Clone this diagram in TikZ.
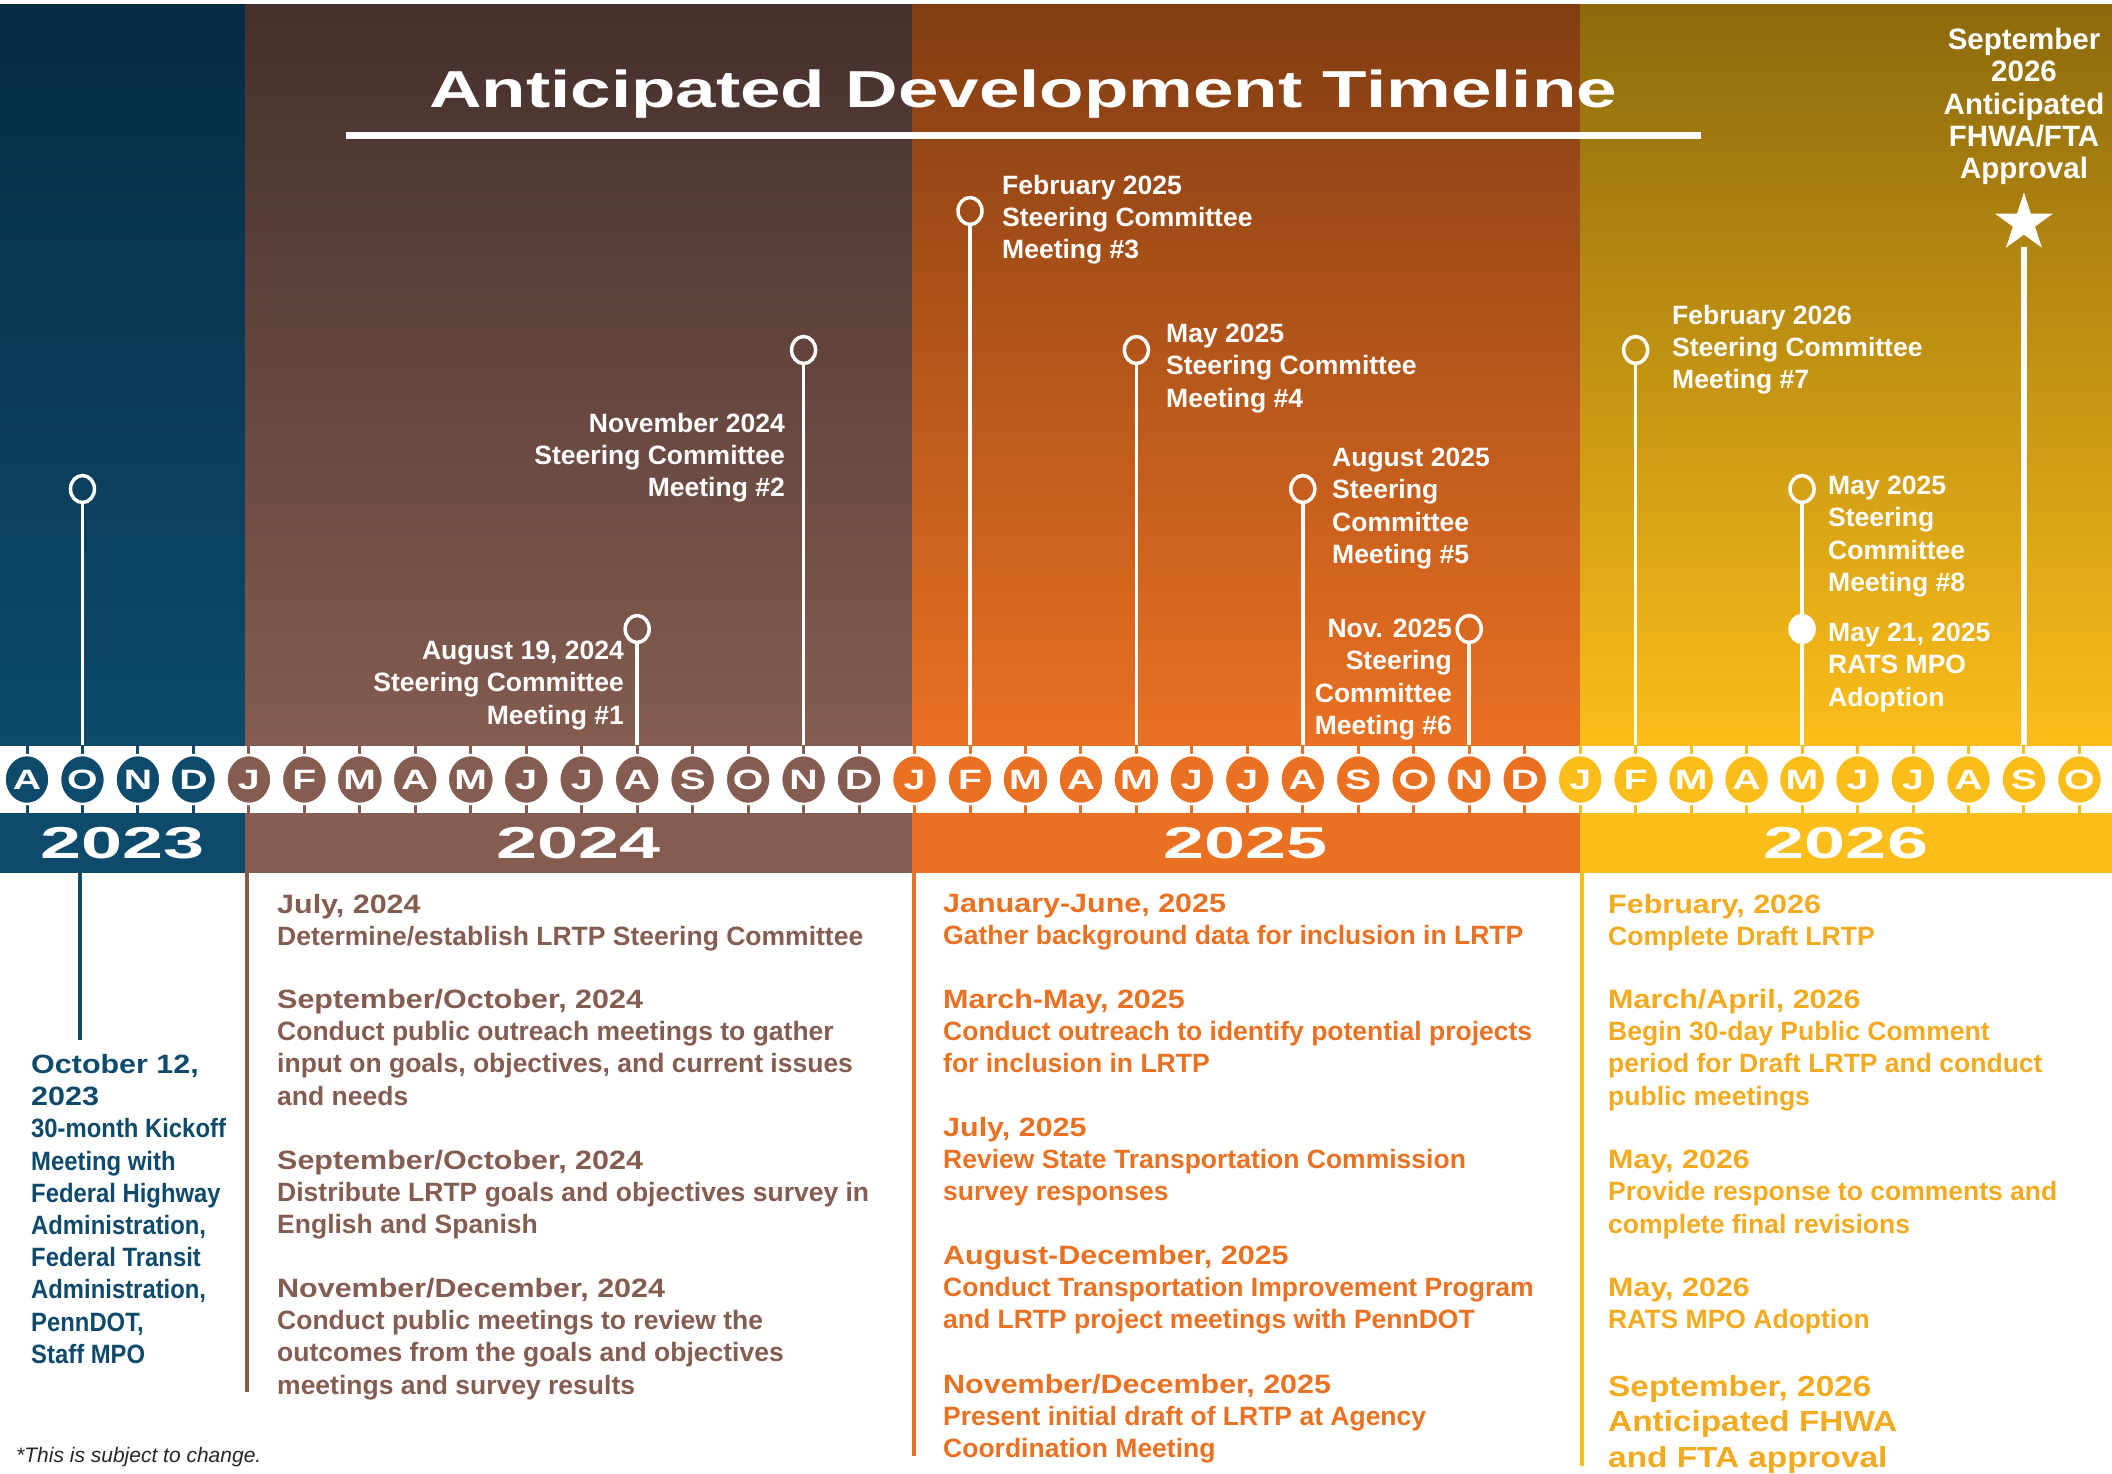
\documentclass[tikz,border=0pt]{standalone}
\usepackage{fontspec}
\setmainfont{Liberation Sans}
\newfontfamily\headfont[FakeStretch=1.15]{Liberation Sans}
\newfontfamily\narrowface[FakeStretch=0.9]{Liberation Sans}
\newfontfamily\wideface[FakeStretch=1.4]{Liberation Sans}
\newfontfamily\yearface[FakeStretch=1.65]{Liberation Sans}
\usetikzlibrary{shapes.geometric}
\definecolor{c23}{HTML}{0E4A6C}
\definecolor{t23}{HTML}{062C44}
\definecolor{c24}{HTML}{845C50}
\definecolor{t24}{HTML}{45302C}
\definecolor{c25}{HTML}{EA7122}
\definecolor{t25}{HTML}{823D13}
\definecolor{c26}{HTML}{FBBD19}
\definecolor{t26}{HTML}{8C6A0C}
\definecolor{x26}{HTML}{F3AA1E}

\begin{document}
\begin{tikzpicture}[x=1pt, y=-1pt,
	month/.style={ellipse, draw=white, line width=2.5, inner sep=0, minimum width=45, minimum height=49, text=white, font=\wideface\bfseries\fontsize{28}{28}\selectfont},
	ring/.style={ellipse, draw=white, line width=3.5, inner sep=0, minimum width=24, minimum height=27},
	stem/.style={white, line width=3.5},
	lbl/.style={text=white, inner sep=0, font=\bfseries\fontsize{26.5}{32.2}\selectfont},
	item/.style={inner sep=0, anchor=north west, align=left, font=\bfseries\fontsize{26.5}{32.2}\selectfont},
	year/.style={text=white, inner sep=0, anchor=base, font=\yearface\bfseries\fontsize{44.7}{45}\selectfont}]
		\def\dx{55.47};
		\fill[white] (0,0) rectangle (2112,1473);
		\useasboundingbox (0,0) rectangle (2112,1473);
		% backgrounds
		\shade[top color=t23, bottom color=c23] (0,4) rectangle (245,745);
		\shade[top color=t24, bottom color=c24] (245,4) rectangle (912,745);
		\shade[top color=t25, bottom color=c25] (912,4) rectangle (1580,745);
		\shade[top color=t26, bottom color=c26] (1580,4) rectangle (2112,745);
		\fill[c23] (0,813) rectangle (245,873);
		\fill[c24] (245,813) rectangle (912,873);
		\fill[c25] (912,813) rectangle (1580,873);
		\fill[c26] (1580,813) rectangle (2112,873);
		\draw[c23, line width=3.5] (80,873) -- (80,1040);
		\draw[c24, line width=4] (247,873) -- (247,1392);
		\draw[c25, line width=4] (914,873) -- (914,1456);
		\draw[c26, line width=4] (1582,873) -- (1582,1466);
		\coordinate (top) at (0,745);
		% title
		\node[text=white, inner sep=0, anchor=base, font=\wideface\bfseries\fontsize{52}{52}\selectfont] (title) at (1023,107) {Anticipated Development Timeline};
		\draw[white, line width=7] (346,135.5) -- (1701,135.5);
		% months
		\foreach \m [count=\i from 0] in {A,O,N,D} {
			\draw[c23, line width=3] ({27+\dx*\i},745) -- ({27+\dx*\i},813);
			\node[month, fill=c23] (m\i) at ({27+\dx*\i},779.5) {\m};
		}
		\foreach \m [count=\i from 4] in {J,F,M,A,M,J,J,A,S,O,N,D} {
			\draw[c24, line width=3] ({27+\dx*\i},745) -- ({27+\dx*\i},813);
			\node[month, fill=c24] (m\i) at ({27+\dx*\i},779.5) {\m};
		}
		\foreach \m [count=\i from 16] in {J,F,M,A,M,J,J,A,S,O,N,D} {
			\draw[c25, line width=3] ({27+\dx*\i},745) -- ({27+\dx*\i},813);
			\node[month, fill=c25] (m\i) at ({27+\dx*\i},779.5) {\m};
		}
		\foreach \m [count=\i from 28] in {J,F,M,A,M,J,J,A,S,O} {
			\draw[c26, line width=3] ({27+\dx*\i},745) -- ({27+\dx*\i},813);
			\node[month, fill=c26] (m\i) at ({27+\dx*\i},779.5) {\m};
		}
		\node[year] (y23) at (122.5,858) {2023};
		\node[year] (y24) at (578.5,858) {2024};
		\node[year] (y25) at (1246,858) {2025};
		\node[year] (y26) at (1846,858) {2026};
		% milestones
		\node[ring] (r1) at ({27+\dx*1},489) {};
		\node[ring] (r2) at ({27+\dx*11},629) {};
		\node[ring] (r3) at ({27+\dx*14},350) {};
		\node[ring] (r4) at ({27+\dx*17},211) {};
		\node[ring] (r5) at ({27+\dx*20},350) {};
		\node[ring] (r6) at ({27+\dx*23},489) {};
		\node[ring] (r7) at ({27+\dx*26},629) {};
		\node[ring] (r8) at ({27+\dx*29},350) {};
		\node[ring] (r9) at ({27+\dx*32},489) {};
		\draw[stem] (r1) -- (r1 |- top);
		\draw[stem] (r2) -- (r2 |- top);
		\draw[stem] (r3) -- (r3 |- top);
		\draw[stem] (r4) -- (r4 |- top);
		\draw[stem] (r5) -- (r5 |- top);
		\draw[stem] (r6) -- (r6 |- top);
		\draw[stem] (r7) -- (r7 |- top);
		\draw[stem] (r8) -- (r8 |- top);
		\draw[stem] (r9) -- (r9 |- top);
		\node[ring, fill=white] (r10) at ({27+\dx*32},629) {};
		\node[star, star points=5, star point ratio=2.618, fill=white, inner sep=0, minimum size=61] (apv) at ({27+\dx*36},223) {};
		\coordinate (apvfoot) at ({27+\dx*36},247);
		\draw[white, line width=6] (apvfoot) -- (apvfoot |- top);
		% milestone labels
		\node[lbl, anchor=north east, align=right] (l2) at (624,641) {August 19, 2024\\Steering Committee\\Meeting \#1};
		\node[lbl, anchor=north east, align=right] (l3) at (785,413) {November 2024\\Steering Committee\\Meeting \#2};
		\node[lbl, anchor=north west, align=left] (l4) at (1002,175) {February 2025\\Steering Committee\\Meeting \#3};
		\node[lbl, anchor=north west, align=left] (l5) at (1166,324) {May 2025\\Steering Committee\\Meeting \#4};
		\node[lbl, anchor=north west, align=left] (l6) at (1332,448) {August 2025\\Steering\\Committee\\Meeting \#5};
		\node[lbl, anchor=north east, align=right] (l7) at (1452,619) {Nov. 2025\\Steering\\Committee\\Meeting \#6};
		\node[lbl, anchor=north west, align=left] (l8) at (1672,305) {February 2026\\Steering Committee\\Meeting \#7};
		\node[lbl, anchor=north west, align=left] (l9) at (1828,476) {May 2025\\Steering\\Committee\\Meeting \#8};
		\node[lbl, anchor=north west, align=left] (l10) at (1828,623) {May 21, 2025\\RATS MPO\\Adoption};
		\node[lbl, anchor=north, align=center, font=\bfseries\fontsize{29.5}{32.3}\selectfont] (lapv) at (2024,28) {September\\2026\\Anticipated\\FHWA/FTA\\Approval};
		% 2023
		\node[item, text=c23, font=\narrowface\bfseries\fontsize{26.5}{32.2}\selectfont] (b23) at (31,1054) {{\headfont October 12,}\\{\headfont 2023}\\30-month Kickoff\\Meeting with\\Federal Highway\\Administration,\\Federal Transit\\Administration,\\PennDOT,\\Staff MPO};
		% 2024
		\node[item, text=c24] (b24a) at (277,894) {{\headfont July, 2024}\\Determine/establish LRTP Steering Committee};
		\node[item, text=c24] (b24b) at (277,989) {{\headfont September/October, 2024}\\Conduct public outreach meetings to gather\\input on goals, objectives, and current issues\\and needs};
		\node[item, text=c24] (b24c) at (277,1150) {{\headfont September/October, 2024}\\Distribute LRTP goals and objectives survey in\\English and Spanish};
		\node[item, text=c24] (b24d) at (277,1278) {{\headfont November/December, 2024}\\Conduct public meetings to review the\\outcomes from the goals and objectives\\meetings and survey results};
		% 2025
		\node[item, text=c25] (b25a) at (943,894) {{\headfont January-June, 2025}\\Gather background data for inclusion in LRTP};
		\node[item, text=c25] (b25b) at (943,989) {{\headfont March-May, 2025}\\Conduct outreach to identify potential projects\\for inclusion in LRTP};
		\node[item, text=c25] (b25c) at (943,1117) {{\headfont July, 2025}\\Review State Transportation Commission\\survey responses};
		\node[item, text=c25] (b25d) at (943,1245) {{\headfont August-December, 2025}\\Conduct Transportation Improvement Program\\and LRTP project meetings with PennDOT};
		\node[item, text=c25] (b25e) at (943,1374) {{\headfont November/December, 2025}\\Present initial draft of LRTP at Agency\\Coordination Meeting};
		% 2026
		\node[item, text=x26] (b26a) at (1608,894) {{\headfont February, 2026}\\Complete Draft LRTP};
		\node[item, text=x26] (b26b) at (1608,989) {{\headfont March/April, 2026}\\Begin 30-day Public Comment\\period for Draft LRTP and conduct\\public meetings};
		\node[item, text=x26] (b26c) at (1608,1150) {{\headfont May, 2026}\\Provide response to comments and\\complete final revisions};
		\node[item, text=x26] (b26d) at (1608,1278) {{\headfont May, 2026}\\RATS MPO Adoption};
		\node[item, text=x26, font=\headfont\bfseries\fontsize{29}{35.7}\selectfont] (b26e) at (1608,1375) {September, 2026\\Anticipated FHWA\\and FTA approval};
		\node[anchor=base west, inner sep=0, text=black!85, font=\itshape\fontsize{21}{21}\selectfont] (note) at (16,1462) {*This is subject to change.};
	\end{tikzpicture}
\end{document}
